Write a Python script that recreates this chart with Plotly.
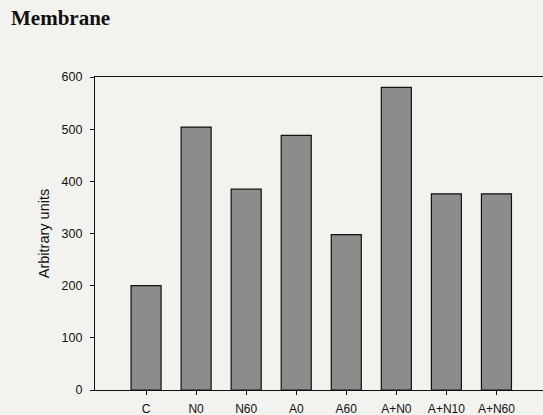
import plotly.graph_objects as go

# Membrane fraction, arbitrary units per treatment
categories = ["C", "N0", "N60", "A0", "A60", "A+N0", "A+N10", "A+N60"]
values = [200, 504, 385, 488, 298, 580, 376, 376]
y_ticks = [0, 100, 200, 300, 400, 500, 600]

paper = "#f2f2ef"
ink = "#111111"

fig = go.Figure(
    go.Bar(
        x=categories,
        y=values,
        width=0.6,
        marker=dict(color="#8b8d8a", line=dict(color="#111111", width=1.2)),
    )
)

fig.update_layout(
    width=543,
    height=415,
    margin=dict(l=95, r=0, t=77, b=25),
    paper_bgcolor=paper,
    plot_bgcolor=paper,
    showlegend=False,
    font=dict(family="Liberation Sans, Arial, sans-serif", color=ink, size=12),
    annotations=[
        dict(
            text="<b>Membrane</b>",
            xref="paper", yref="paper",
            x=-0.193, y=1.0, yshift=45,
            xanchor="left", yanchor="bottom",
            showarrow=False,
            font=dict(family="Liberation Serif, Times New Roman, serif", size=21, color="#111111"),
        )
    ],
)

fig.update_xaxes(
    type="category",
    range=[-1.02, 7.93],
    showline=True,
    linecolor=ink,
    linewidth=1.2,
    mirror=True,
    ticks="outside",
    ticklen=4,
    tickcolor=ink,
    showgrid=False,
    zeroline=False,
    tickfont=dict(size=12),
    ticklabelstandoff=3,
)

fig.update_yaxes(
    range=[0, 600],
    tickvals=y_ticks,
    showline=True,
    linecolor=ink,
    linewidth=1.2,
    ticks="outside",
    ticklen=4,
    tickcolor=ink,
    showgrid=False,
    zeroline=False,
    tickfont=dict(size=12.5),
    ticklabelstandoff=5,
    title=dict(text="Arbitrary units", font=dict(size=14.5), standoff=8),
)

fig.write_html("out.html")
